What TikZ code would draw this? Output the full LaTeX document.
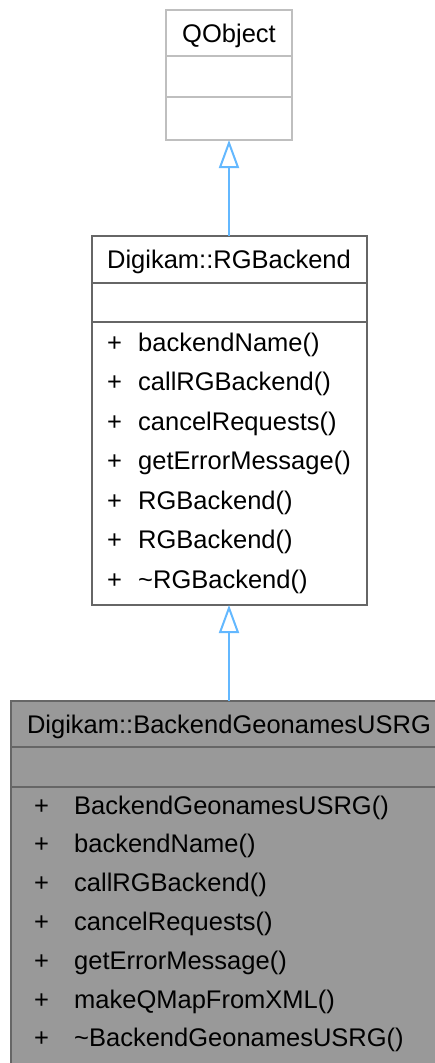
\documentclass[tikz,border=0pt]{standalone}
\usepackage{fontspec}
\setmainfont{Liberation Sans}
\usetikzlibrary{positioning,arrows.meta}

\definecolor{qgray}{HTML}{BFBFBF}
\definecolor{dgray}{HTML}{666666}
\definecolor{fillgray}{HTML}{999999}
\definecolor{inhblue}{HTML}{63B8FF}

\tikzset{
	classrow/.style={draw=#1, line width=2pt, inner sep=0pt, outer sep=0pt,
		text height=18.3pt, text depth=0pt},
	opitem/.style={anchor=base west, inner sep=0pt},
	inherit/.style={draw=inhblue, line width=2pt,
		-{Triangle[open, length=28pt, width=20pt, line width=2pt]}},
}

\begin{document}
\begin{tikzpicture}[x=1pt, y=-1pt, font=\fontsize{25.5}{30}\selectfont]
	\path[use as bounding box] (0,0) rectangle (435,1063);
	\clip (0,0) rectangle (435,1063);
	
	% QObject
	\node[classrow=qgray, fill=white, minimum width=126pt, minimum height=46pt] (qobj) at (229,33) {QObject};
	\node[classrow=qgray, fill=white, minimum width=126pt, minimum height=41pt, below=0pt of qobj] (qobj-attr) {};
	\node[classrow=qgray, fill=white, minimum width=126pt, minimum height=43pt, below=0pt of qobj-attr] (qobj-ops) {};
	
	% Digikam::RGBackend
	\node[classrow=dgray, fill=white, minimum width=275pt, minimum height=47pt] (rgb) at (229,259.5) {Digikam::RGBackend};
	\node[classrow=dgray, fill=white, minimum width=275pt, minimum height=39pt, below=0pt of rgb] (rgb-attr) {};
	\node[classrow=dgray, fill=white, minimum width=275pt, minimum height=283pt, below=0pt of rgb-attr] (rgb-ops) {};
	\foreach \opname [count=\i from 0] in {backendName(), callRGBackend(), cancelRequests(),
		getErrorMessage(), RGBackend(), RGBackend(), {\textasciitilde RGBackend()}} {
		\node[opitem] (rgb-plus\i) at (107,{351+39.5*\i}) {+};
		\node[opitem] (rgb-op\i) at (138,{351+39.5*\i}) {\opname};
	}
	
	% Digikam::BackendGeonamesUSRG
	\node[classrow=dgray, fill=fillgray, minimum width=436pt, minimum height=46pt] (usrg) at (229,724) {Digikam::BackendGeonamesUSRG};
	\node[classrow=dgray, fill=fillgray, minimum width=436pt, minimum height=40pt, below=0pt of usrg] (usrg-attr) {};
	\node[classrow=dgray, fill=fillgray, minimum width=436pt, minimum height=290pt, below=0pt of usrg-attr] (usrg-ops) {};
	\foreach \opname [count=\i from 0] in {BackendGeonamesUSRG(), backendName(), callRGBackend(),
		cancelRequests(), getErrorMessage(), makeQMapFromXML(), {\textasciitilde BackendGeonamesUSRG()}} {
		\node[opitem] (usrg-plus\i) at (34,{814+38.8*\i}) {+};
		\node[opitem] (usrg-op\i) at (74,{814+38.8*\i}) {\opname};
	}
	
	% Inheritance
	\draw[inherit] (rgb.north) -- (qobj-ops.south);
	\draw[inherit] (usrg.north) -- (rgb-ops.south);
	
\end{tikzpicture}
\end{document}
